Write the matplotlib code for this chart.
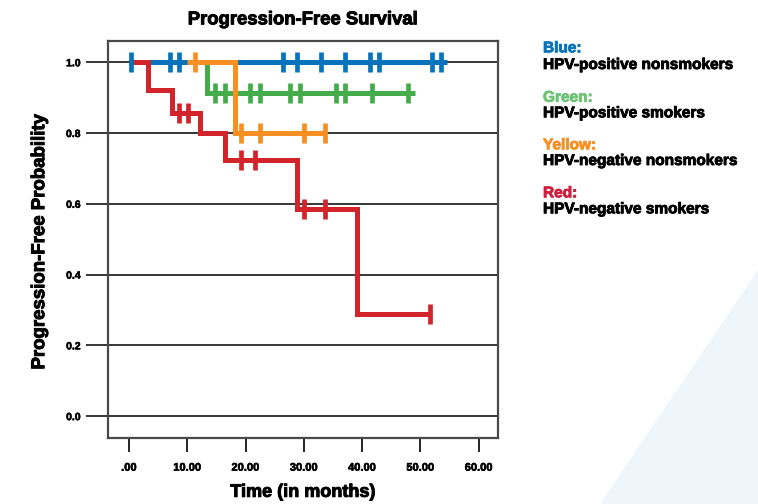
import numpy as np
import matplotlib
matplotlib.use("Agg")
import matplotlib.pyplot as plt
from matplotlib.patches import Polygon
import matplotlib.patheffects as pe

plt.rcParams['font.family'] = ['Liberation Sans', 'DejaVu Sans']
plt.rcParams['font.weight'] = 'bold'

# ---- data ----
blue_times = [0.0, 54.5]
blue_surv = [1.0, 1.0]
blue_cens = [0.34, 7.1, 8.6, 26.5, 28.8, 33.0, 37.1, 41.4, 42.9, 52.0, 53.6]

green_times = [0.0, 13.4, 49.0]
green_surv = [1.0, 0.912, 0.912]
green_cens = [14.8, 16.4, 20.8, 22.5, 27.7, 29.4, 35.6, 37.1, 41.7, 47.9]

orange_times = [10.0, 18.2, 33.7]
orange_surv = [1.0, 0.80, 0.80]
orange_cens = [11.4, 19.3, 22.4, 30.1, 33.7]

red_times = [0.0, 3.3, 7.4, 12.2, 16.5, 28.9, 39.2, 51.7]
red_surv = [1.0, 0.922, 0.856, 0.80, 0.724, 0.586, 0.289, 0.289]
red_cens = [8.6, 10.2, 19.3, 21.7, 30.1, 33.7, 51.7]

x_ticks = [0, 10, 20, 30, 40, 50, 60]
x_ticklabels = ['.00', '10.00', '20.00', '30.00', '40.00', '50.00', '60.00']
y_ticks = [0.0, 0.2, 0.4, 0.6, 0.8, 1.0]
y_ticklabels = ['0.0', '0.2', '0.4', '0.6', '0.8', '1.0']

legend_heads = ['Blue:', 'Green:', 'Yellow:', 'Red:']
legend_texts = ['HPV-positive nonsmokers', 'HPV-positive smokers',
                'HPV-negative nonsmokers', 'HPV-negative smokers']

BLUE = '#0872BA'
GREEN = '#45AC4C'
ORANGE = '#F78F22'
RED = '#D3242C'
head_colors = ['#0872BA', '#6EC276', '#F78F22', '#D01F3C']

W, H = 758, 504
fig = plt.figure(figsize=(W / 100, H / 100), dpi=100)


def heavy(c, w=0.6):
    return [pe.withStroke(linewidth=w, foreground=c)]


# background light triangle
tri = Polygon([(758 / W, 1 - 270 / H), (600 / W, 0), (1, 0)],
              closed=True, transform=fig.transFigure,
              facecolor='#EEF6FC', edgecolor='none', zorder=0)
fig.patches.append(tri)

ax = fig.add_axes([107.7 / W, 1 - 437.7 / H, (497.7 - 107.7) / W, (437.7 - 41) / H])
ax.set_xlim(-3.65, 63.26)
ax.set_ylim(-0.061, 1.060)

for yv in y_ticks:
    ax.axhline(yv, color='black', lw=1.1, zorder=1)


def step_val(times, surv, t):
    idx = np.searchsorted(times, t, side='right') - 1
    idx = np.clip(idx, 0, len(surv) - 1)
    return np.asarray(surv)[idx]


series = [
    (green_times, green_surv, green_cens, GREEN, 2),
    (blue_times, blue_surv, blue_cens, BLUE, 3),
    (orange_times, orange_surv, orange_cens, ORANGE, 4),
    (red_times, red_surv, red_cens, RED, 5),
]
for times, surv, cens, col, z in series:
    ax.plot(times, surv, drawstyle='steps-post', color=col, lw=3.6,
            solid_joinstyle='miter', solid_capstyle='butt', zorder=z)
for times, surv, cens, col, z in series:
    ax.plot(cens, step_val(times, surv, np.asarray(cens)), ls='none',
            marker='|', ms=14, mew=3.4, color=col, zorder=z + 5)

ax.set_xticks(x_ticks)
ax.set_xticklabels(x_ticklabels, fontsize=8, fontweight='bold')
ax.set_yticks(y_ticks)
ax.set_yticklabels(y_ticklabels, fontsize=7.5, fontweight='bold')
ax.tick_params(axis='x', direction='out', length=10, width=1.2, pad=8, color='black')
ax.tick_params(axis='y', direction='out', length=15.5, width=1.1, pad=4, color='black')
for lab in ax.get_xticklabels() + ax.get_yticklabels():
    lab.set_path_effects(heavy('black', 0.4))

for s in ax.spines.values():
    s.set_color('#4a4a4a')
    s.set_linewidth(1.6)

xl = ax.set_xlabel('Time (in months)', fontsize=13, fontweight='bold', labelpad=8)
tt = ax.set_title('Progression-Free Survival', fontsize=13.3, fontweight='bold', pad=12)
yl = fig.text(39.7 / W, 1 - 242 / H, 'Progression-Free Probability', rotation=90,
              ha='center', va='center', fontsize=13.4, fontweight='bold')
for t in (xl, yl, tt):
    t.set_path_effects(heavy('black', 0.7))

head_y = [52.3, 101.7, 149.3, 197.3]
text_y = [69, 117.3, 165, 213.3]
for h, t, c, hy, ty in zip(legend_heads, legend_texts, head_colors, head_y, text_y):
    fig.text(543 / W, 1 - hy / H, h, color=c, fontsize=11.1, fontweight='bold',
             va='baseline', path_effects=heavy(c))
    fig.text(543 / W, 1 - ty / H, t, color='black', fontsize=11.1, fontweight='bold',
             va='baseline', path_effects=heavy('black'))

fig.savefig('out.png', dpi=100)
